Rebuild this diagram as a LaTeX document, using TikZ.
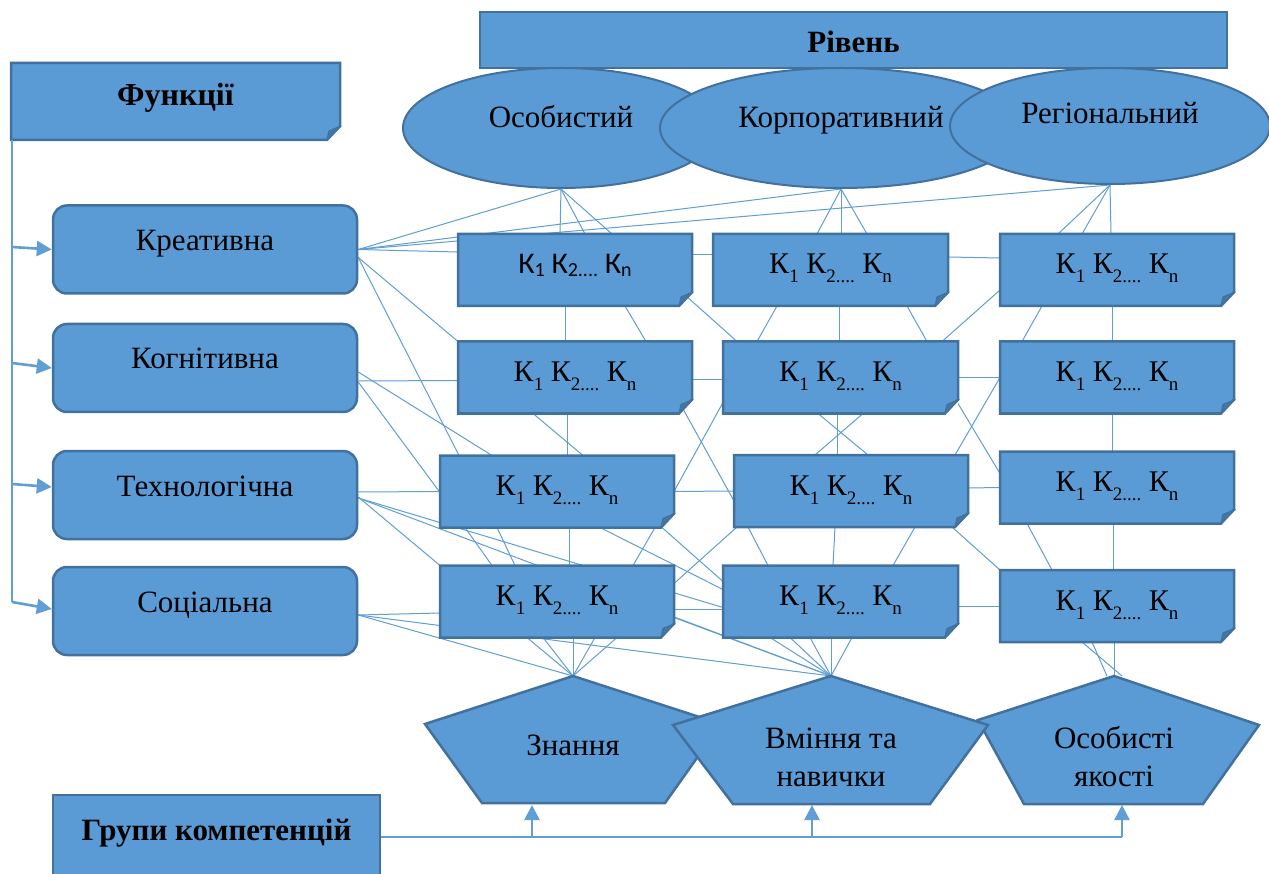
\documentclass[tikz,border=0pt]{standalone}
\usepackage{fontspec}
\setmainfont{Liberation Serif}
\newfontfamily\calib{Carlito}
\usetikzlibrary{shapes.geometric,calc,arrows.meta}
\definecolor{bfill}{RGB}{91,155,213}
\definecolor{bdraw}{RGB}{65,113,156}
\definecolor{lcol}{RGB}{96,158,214}
\definecolor{fdark}{RGB}{68,118,166}
\pgfdeclarelayer{lines}
\pgfdeclarelayer{shapes}
\pgfsetlayers{lines,shapes,main}
\newcommand\fs[2]{\fontsize{#1}{#2}\selectfont}
\newcommand\ksub[1]{\raisebox{-9pt}{\fs{19}{19}#1}}
\newcommand\klab{К\ksub{1} К\ksub{2....} К\ksub{n}}
\newcommand\kcsub[1]{\raisebox{-3pt}{\fs{20}{20}#1}}
\newcommand\klabc{{\calib К\kcsub{1} К\kcsub{2....} К\kcsub{n}}}
\newcommand\notebox[7][]{%
  \node[anchorbox,minimum width=#5pt,minimum height=#6pt,#1] (#2) at (#3,#4) {#7};
  \begin{pgfonlayer}{shapes}
    \filldraw[boxshape] (#2.north west) -- (#2.north east) -- ([yshift=14pt]#2.south east) -- ([xshift=-13pt]#2.south east) -- (#2.south west) -- cycle;
    \filldraw[foldshape] ([xshift=-13pt]#2.south east) -- ([xshift=1pt,yshift=14pt]#2.south east) -- ([xshift=-11pt,yshift=9pt]#2.south east) -- cycle;
  \end{pgfonlayer}}
\tikzset{
  anchorbox/.style={shape=rectangle,inner sep=0pt,outer sep=0pt},
  boxshape/.style={fill=bfill,draw=bdraw,line width=2.5pt},
  foldshape/.style={fill=fdark,draw=bdraw,line width=1.2pt,line join=round},
  kbox/.style={font=\fs{30}{36},text height=20pt,text depth=12pt},
  fbox/.style={font=\bfseries\fs{32}{38},text height=22pt,text depth=14pt},
  rbox/.style={shape=rectangle,rounded corners=14pt,fill=bfill,draw=bdraw,line width=2.5pt,minimum width=304pt,minimum height=88pt,inner sep=0pt,font=\fs{31}{37},text height=21pt,text depth=19pt},
  ell/.style={shape=ellipse,fill=bfill,draw=bdraw,line width=2pt,inner sep=0pt,font=\fs{31}{37},text height=21pt,text depth=21pt},
  pent/.style={fill=bfill,draw=bdraw,line width=2.5pt,line join=miter},
  ptext/.style={font=\fs{31}{38},align=center,inner sep=0pt},
  titlebox/.style={shape=rectangle,fill=bfill,draw=bdraw,line width=2.5pt,inner sep=0pt,font=\bfseries\fs{31}{37}},
  conn/.style={draw=lcol,line width=1pt},
  mainline/.style={draw=lcol,line width=1.6pt},
  arr/.style={draw=lcol,line width=2.6pt,-{Triangle[length=15pt,width=15pt]}}
}
\begin{document}
\begin{tikzpicture}[x=1pt,y=-1pt]
\begin{pgfonlayer}{lines}\fill[white] (0,0) rectangle (1269,874);\end{pgfonlayer}
\useasboundingbox (0,0) rectangle (1269,874);

% titles
\notebox[fbox]{f}{175.5}{101.5}{329}{77}{Функції}
\node[titlebox,minimum width=747pt,minimum height=56pt,text height=26pt,text depth=0pt] (r) at (853.5,40) {Рівень};
\node[titlebox,minimum width=327pt,minimum height=90pt,text height=21pt,text depth=21pt] (g) at (216.5,840) {Групи компетенцій};

% levels
\node[ell,minimum width=316pt,minimum height=120pt] (e1) at (561,128) {Особистий};
\node[ell,minimum width=362pt,minimum height=120pt] (e2) at (841,128) {Корпоративний};
\node[ell,minimum width=320pt,minimum height=116pt,text depth=25pt] (e3) at (1110,126) {Регіональний};

% functions
\node[rbox] (a1) at (205,249.5) {Креативна};
\node[rbox] (a2) at (205,368) {Когнітивна};
\node[rbox] (a3) at (205,495) {Технологічна};
\node[rbox] (a4) at (205,611) {Соціальна};

% competence boxes
\notebox[kbox]{k11}{575}{270}{234}{72}{\klabc}
\notebox[kbox]{k12}{575}{377.5}{234}{72}{\klab}
\notebox[kbox]{k13}{557}{491.5}{234}{72}{\klab}
\notebox[kbox]{k14}{557}{601.5}{234}{72}{\klab}
\notebox[kbox]{k21}{830.5}{270}{235}{72}{\klab}
\notebox[kbox]{k22}{840.5}{377.5}{235}{72}{\klab}
\notebox[kbox]{k23}{851}{491}{234}{72}{\klab}
\notebox[kbox]{k24}{840.5}{601.5}{235}{72}{\klab}
\notebox[kbox]{k31}{1117}{270}{234}{72}{\klab}
\notebox[kbox]{k32}{1117}{377.5}{234}{72}{\klab}
\notebox[kbox]{k33}{1117}{487.5}{234}{72}{\klab}
\notebox[kbox]{k34}{1117}{606}{234}{72}{\klab}

% groups (pentagons)
\filldraw[pent] (573,676) -- (721,724) -- (665,803) -- (482,803) -- (425,724) -- cycle;
\node[ptext] (t1) at (573,745) {Знання};
\filldraw[pent] (1114,676) -- (1259,725) -- (1203,804) -- (1024,804) -- (978,720) -- cycle;
\node[ptext] (t3) at (1114,757) {Особисті\\якості};
\filldraw[pent] (831,676) -- (988,725) -- (930,804) -- (733,804) -- (673,725) -- cycle;
\node[ptext] (t2) at (831,757) {Вміння та\\навички};
\coordinate (p1t) at (573,676);
\coordinate (p2t) at (831,676);
\coordinate (p3t) at (1114,676);
\coordinate (p1b) at (532,805);
\coordinate (p2b) at (812,805);
\coordinate (p3b) at (1122,805);

% left arrows
\coordinate (fv) at ([xshift=1pt]f.south west);
\draw[mainline] (fv) -- ($(fv |- a4.west)+(0,-9)$);
\draw[arr] ($(fv |- a1.west)+(0,-2.5)$) -- (a1.west);
\draw[arr] ($(fv |- a2.west)+(0,-5)$) -- (a2.west);
\draw[arr] ($(fv |- a3.west)+(0,-11)$) -- ([yshift=8pt]a3.west);
\draw[arr] ($(fv |- a4.west)+(0,-9)$) -- ([yshift=2pt]a4.west);

% bottom arrows
\coordinate (gl) at ([yshift=3pt]g.east);
\draw[mainline] (gl) -- (gl -| p3b);
\draw[arr] (gl -| p1b) -- (p1b);
\draw[arr] (gl -| p2b) -- (p2b);
\draw[arr] (gl -| p3b) -- (p3b);

\begin{pgfonlayer}{lines}
% Креативна
\draw[conn] (a1.east) -- (e1.south);
\draw[conn] (a1.east) -- (e2.south);
\draw[conn] (a1.east) -- (e3.south);
\draw[conn] (a1.east) -- ([yshift=18pt]k11.west);
\draw[conn] ([yshift=-8pt]a1.east) -- (k12.north west);
\draw[conn] ([yshift=-8pt]a1.east) -- ([xshift=-98pt]k13.north);
% Когнітивна
\draw[conn] ([yshift=-13pt]a2.east) -- ([yshift=-3pt]k12.west);
\draw[conn] ([yshift=-4pt]a2.east) -- ([xshift=-65pt]k13.north);
\draw[conn] ([yshift=-14pt]a2.east) -- ([yshift=-1pt]k13.west);
% Технологічна
\draw[conn] ([yshift=3pt]a3.east) -- (k13.west);
\draw[conn] ([yshift=-2pt]a3.east) -- (k14.north west);
\draw[conn] ([yshift=-3pt]a3.east) -- (p2t);
\draw[conn] ([yshift=-3pt]a3.east) -- ([yshift=-6pt]k24.west);
% Соціальна
\draw[conn] ([yshift=-4pt]a4.east) -- ([yshift=-11.5pt]k14.west);
\draw[conn] ([yshift=-4pt]a4.east) -- (p1t);
\draw[conn] ([yshift=-4pt]a4.east) -- (p2t);
% levels to first row
\draw[conn] (e1.south) -- ([xshift=-15pt]k11.north);
\draw[conn] (e1.south) -- ([xshift=10pt]k11.north);
\draw[conn] (e1.south) -- ([xshift=37pt]k11.north);
\draw[conn] (e2.south) -- ([xshift=-13.5pt]k21.north);
\draw[conn] (e2.south) -- ([xshift=10.5pt]k21.north);
\draw[conn] (e2.south) -- ([xshift=36.5pt]k21.north);
\draw[conn] (e3.south) -- ([xshift=-59pt]k31.north);
\draw[conn] (e3.south) -- ([xshift=-35pt]k31.north);
\draw[conn] (e3.south) -- ([xshift=-6pt]k31.north);
% horizontal links
\draw[conn] ([yshift=15pt]k11.east) -- ([yshift=15pt]k21.west);
\draw[conn] ([yshift=13pt]k21.east) -- ([yshift=12pt]k31.west);
\draw[conn] ([yshift=-2pt]k12.east) -- ([yshift=-2pt]k22.west);
\draw[conn] (k22.east) -- (k32.west);
\draw[conn] (k13.east) -- (k23.west);
\draw[conn] ([yshift=3pt]k23.east) -- (k33.west);
\draw[conn] ([yshift=-8pt]k14.east) -- ([yshift=-8pt]k24.west);
\draw[conn] ([yshift=-4.5pt]k24.east) -- (k34.west);
% column 1
\draw[conn] ([xshift=-10pt]k11.south) -- ([xshift=-10pt]k12.north);
\draw[conn] ([xshift=50pt]k11.south) -- ([xshift=71pt]k12.north);
\draw[conn] ([xshift=-8pt]k12.south) -- ([xshift=10pt]k13.north);
\draw[conn] ([xshift=-42pt]k12.south) -- ([xshift=26pt]k13.north);
\draw[conn] ([xshift=12pt]k13.south) -- ([xshift=12pt]k14.north);
\draw[conn] ([xshift=-92pt]k13.south) -- ([xshift=-65pt]k14.north);
\draw[conn] ([xshift=-60pt]k13.south) -- ([xshift=-42pt]k14.north);
\draw[conn] ([xshift=98pt]k13.south) -- ([xshift=76pt]k14.north);
% column 1 - column 2
\draw[conn] ([xshift=-7pt,yshift=11pt]k11.south east) -- ([xshift=14pt]k22.north west);
\draw[conn] ([xshift=-12pt,yshift=10pt]k12.south east) -- ([yshift=-10pt]k23.west);
\draw[conn] ([yshift=11pt]k22.south west) -- (k13.east);
\draw[conn] ([xshift=3pt]k23.south west) -- ([yshift=18pt]k14.east);
\draw[conn] ([xshift=-12pt]k13.south east) -- ([yshift=20pt]k24.west);
\draw[conn] ([xshift=43pt]k13.south) -- ([yshift=12pt]k24.west);
% column 2
\draw[conn] ([xshift=-53.5pt]k21.south) -- ([xshift=-83.5pt]k22.north);
\draw[conn] ([xshift=8.5pt]k21.south) -- ([xshift=-1.5pt]k22.north);
\draw[conn] ([xshift=76.5pt]k21.south) -- ([xshift=86.5pt]k22.north);
\draw[conn] ([xshift=-22.5pt]k22.south) -- ([xshift=17pt]k23.north);
\draw[conn] ([xshift=22.5pt]k22.south) -- ([xshift=-36pt]k23.north);
\draw[conn] ([xshift=-3.5pt]k22.south) -- ([xshift=-14pt]k23.north);
\draw[conn] ([xshift=-103pt]k23.south) -- ([xshift=-72.5pt]k24.north);
\draw[conn] ([xshift=-16pt]k23.south) -- ([xshift=-7.5pt]k24.north);
\draw[conn] ([xshift=64pt]k23.south) -- ([xshift=52.5pt]k24.north);
% column 2 - column 3
\draw[conn] ([xshift=-16pt]k22.north east) -- ([yshift=-20pt]k31.west);
\draw[conn] ([xshift=-13pt]k23.north east) -- (k32.west);
\draw[conn] ([yshift=10pt]k22.south east) -- ([yshift=14pt]k33.west);
\draw[conn] ([xshift=-16pt]k23.south east) -- (k34.north west);
% column 3
\draw[conn] ([xshift=-75pt]k31.south) -- ([xshift=-95pt]k32.north);
\draw[conn] ([xshift=-5pt]k31.south) -- ([xshift=-5pt]k32.north);
\draw[conn] ([xshift=-5pt]k32.south) -- ([xshift=-5pt]k33.north);
\draw[conn] ([xshift=-90pt]k33.south) -- ([xshift=-65pt]k34.north);
\draw[conn] ([xshift=-4pt]k33.south) -- ([xshift=-4pt]k34.north);
% to groups
\draw[conn] ([xshift=-30pt]k14.south) -- (p1t);
\draw[conn] ([xshift=-14pt]k14.south) -- (p1t);
\draw[conn] ([xshift=16pt]k14.south) -- (p1t);
\draw[conn] ([xshift=38pt]k14.south) -- (p1t);
\draw[conn] ([xshift=60pt]k14.south) -- (p1t);
\draw[conn] ([xshift=-70.5pt]k24.south) -- (p2t);
\draw[conn] ([xshift=-50.5pt]k24.south) -- (p2t);
\draw[conn] ([xshift=-30.5pt]k24.south) -- (p2t);
\draw[conn] ([xshift=-9.5pt]k24.south) -- (p2t);
\draw[conn] ([xshift=11.5pt]k24.south) -- (p2t);
\draw[conn] ([yshift=-16pt]k14.east) -- (p2t);
\draw[conn] ([xshift=-35pt]k34.south) -- ([xshift=8pt]p3t);
\draw[conn] ([xshift=-25pt]k34.south) -- ([xshift=-7pt]p3t);
\draw[conn] ([xshift=-3pt]k34.south) -- (p3t);
\end{pgfonlayer}
\end{tikzpicture}
\end{document}
